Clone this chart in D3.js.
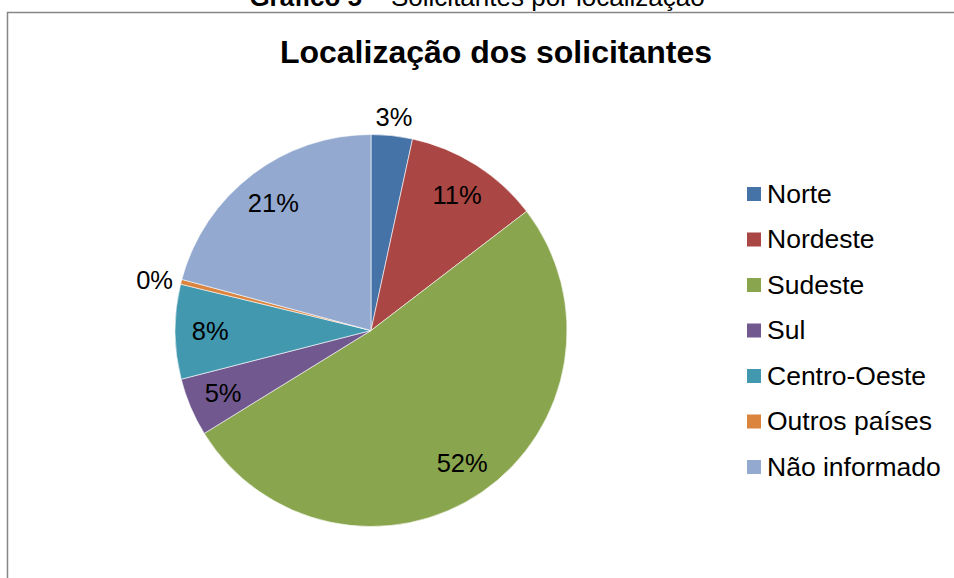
<!DOCTYPE html>
<html>
<head>
<meta charset="utf-8">
<script src="https://cdn.jsdelivr.net/npm/d3@7"></script>
<style>
  body { margin: 0; background: #fff; }
  svg { display: block; font-family: "Liberation Sans", Arial, sans-serif; }
</style>
</head>
<body>
<div id="chart"></div>
<script>
const regions = ["Norte", "Nordeste", "Sudeste", "Sul", "Centro-Oeste", "Outros países", "Não informado"];
const shares = [3.4, 11.2, 51.6, 4.8, 7.8, 0.4, 20.8];
const sliceLabels = ["3%", "11%", "52%", "5%", "8%", "0%", "21%"];
const colors = ["#4572A7", "#AA4643", "#89A54E", "#71588F", "#4198AF", "#DB843D", "#93A9CF"];

const data = regions.map((r, i) => ({ region: r, value: shares[i], label: sliceLabels[i] }));

const svgWidth = 954, svgHeight = 578;
const svg = d3.select("#chart").append("svg")
    .attr("width", svgWidth)
    .attr("height", svgHeight);

// caption above the chart frame (cut off at the top, as in the source)
const caption = svg.append("text")
    .attr("x", 477)
    .attr("y", 6)
    .attr("text-anchor", "middle")
    .attr("font-size", 26)
    .attr("fill", "#000");
caption.append("tspan").attr("font-weight", "bold").text("Gráfico 5");
caption.append("tspan").text(" – Solicitantes por localização");

// chart frame
svg.append("rect")
    .attr("x", 7.5)
    .attr("y", 12.5)
    .attr("width", 960)
    .attr("height", 600)
    .attr("fill", "none")
    .attr("stroke", "#868686")
    .attr("stroke-width", 1.5);

// title
svg.append("text")
    .attr("x", 496)
    .attr("y", 63)
    .attr("text-anchor", "middle")
    .attr("font-size", 32)
    .attr("font-weight", "bold")
    .text("Localização dos solicitantes");

const cx = 371, cy = 330.5, radius = 196;
const g = svg.append("g")
    .attr("transform", "translate(" + cx + "," + cy + ")");

const pie = d3.pie().value(d => d.value).sort(null);
const arc = d3.arc().innerRadius(0).outerRadius(radius);
const arcs = pie(data);

g.selectAll("path")
    .data(arcs)
    .join("path")
    .attr("d", arc)
    .attr("fill", (d, i) => colors[i])
    .attr("stroke", "#fff")
    .attr("stroke-width", 0.6);

// data labels: inside for large slices, outside for small ones
g.selectAll("text.lbl")
    .data(arcs)
    .join("text")
    .attr("class", "lbl")
    .attr("font-size", 25.5)
    .attr("fill", "#000")
    .attr("dy", "0.35em")
    .each(function(d) {
        const a = (d.startAngle + d.endAngle) / 2;
        const s = Math.sin(a), c = Math.cos(a);
        let rr, anchor;
        if (d.data.value < 4) {
            rr = radius + 20 - 12 * Math.abs(s);
            anchor = Math.abs(s) < 0.5 ? "middle" : (s > 0 ? "start" : "end");
        } else {
            rr = radius * 0.82;
            anchor = "middle";
        }
        d3.select(this)
            .attr("x", rr * s)
            .attr("y", -rr * c)
            .attr("text-anchor", anchor);
    })
    .text(d => d.data.label);

// legend
const legend = svg.append("g").attr("transform", "translate(747,194)");
const rowH = 45.5;
const item = legend.selectAll("g")
    .data(data)
    .join("g")
    .attr("transform", (d, i) => "translate(0," + i * rowH + ")");
item.append("rect")
    .attr("x", 0)
    .attr("y", -7)
    .attr("width", 14)
    .attr("height", 14)
    .attr("fill", (d, i) => colors[i]);
item.append("text")
    .attr("x", 20)
    .attr("y", 8.5)
    .attr("font-size", 26.5)
    .attr("fill", "#000")
    .text(d => d.region);
</script>
</body>
</html>
